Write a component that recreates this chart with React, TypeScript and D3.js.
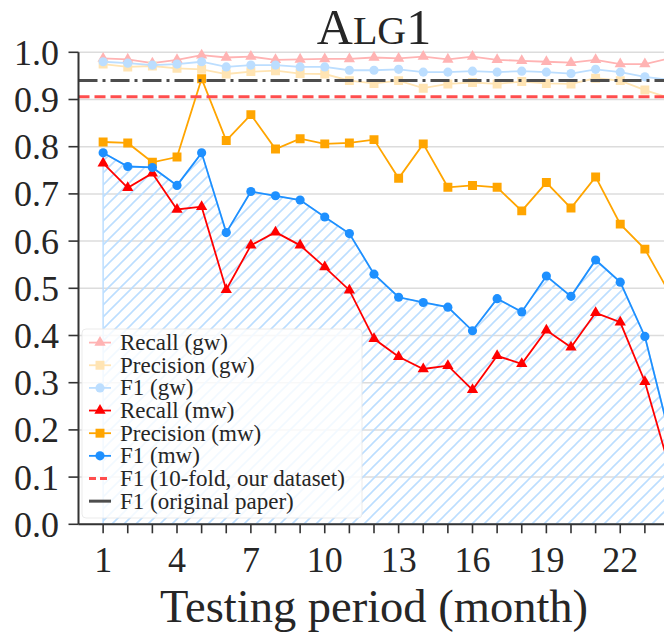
import { useEffect, useRef } from "react";
import * as d3 from "d3";

const months = d3.range(1, 25);
const xTickLabels = [1, 4, 7, 10, 13, 16, 19, 22];
const yTicks = [0, 0.1, 0.2, 0.3, 0.4, 0.5, 0.6, 0.7, 0.8, 0.9, 1.0];

const recallGw = [0.987, 0.985, 0.977, 0.984, 0.994, 0.989, 0.991, 0.984, 0.985, 0.986, 0.986, 0.989, 0.987, 0.991, 0.985, 0.991, 0.984, 0.982, 0.98, 0.978, 0.984, 0.975, 0.975, 0.987];
const precisionGw = [0.975, 0.969, 0.971, 0.966, 0.964, 0.954, 0.959, 0.961, 0.955, 0.954, 0.94, 0.934, 0.94, 0.924, 0.933, 0.936, 0.933, 0.938, 0.934, 0.933, 0.945, 0.94, 0.92, 0.903];
const f1Gw = [0.98, 0.977, 0.973, 0.975, 0.98, 0.969, 0.973, 0.973, 0.969, 0.969, 0.962, 0.962, 0.964, 0.958, 0.958, 0.96, 0.958, 0.96, 0.958, 0.955, 0.964, 0.958, 0.948, 0.942];
const recallMw = [0.765, 0.713, 0.744, 0.667, 0.673, 0.497, 0.591, 0.619, 0.591, 0.545, 0.496, 0.393, 0.355, 0.329, 0.336, 0.285, 0.357, 0.34, 0.411, 0.375, 0.448, 0.428, 0.302, 0.12];
const precisionMw = [0.81, 0.808, 0.767, 0.778, 0.944, 0.813, 0.868, 0.795, 0.817, 0.806, 0.808, 0.815, 0.733, 0.806, 0.714, 0.718, 0.714, 0.664, 0.724, 0.67, 0.736, 0.636, 0.583, 0.49];
const f1Mw = [0.787, 0.758, 0.756, 0.718, 0.787, 0.618, 0.705, 0.696, 0.687, 0.651, 0.616, 0.53, 0.481, 0.47, 0.46, 0.41, 0.478, 0.45, 0.526, 0.483, 0.56, 0.513, 0.398, 0.19];

const f1TenFold = 0.906;
const f1Paper = 0.94;

const RED = "#ff0000";
const ORANGE = "#ffa500";
const BLUE = "#1e90ff";

const series = [
  { label: "Recall (gw)", values: recallGw, color: RED, alpha: 0.3, marker: "triangle" },
  { label: "Precision (gw)", values: precisionGw, color: ORANGE, alpha: 0.3, marker: "square" },
  { label: "F1 (gw)", values: f1Gw, color: BLUE, alpha: 0.3, marker: "circle" },
  { label: "Recall (mw)", values: recallMw, color: RED, alpha: 1, marker: "triangle" },
  { label: "Precision (mw)", values: precisionMw, color: ORANGE, alpha: 1, marker: "square" },
  { label: "F1 (mw)", values: f1Mw, color: BLUE, alpha: 1, marker: "circle" },
];

const W = 664;
const H = 632;
const FONT = "'Liberation Serif', 'Times New Roman', serif";

// mix a colour with white, like matplotlib alpha over a white page
const tint = (c: string, a: number) => {
  const rgb = d3.rgb(c);
  return d3.rgb(255 - (255 - rgb.r) * a, 255 - (255 - rgb.g) * a, 255 - (255 - rgb.b) * a).formatHex();
};

const symbolFor = (m: string) => {
  if (m === "triangle") return d3.symbol(d3.symbolTriangle, 55);
  if (m === "square") return d3.symbol(d3.symbolSquare, 80);
  return d3.symbol(d3.symbolCircle, 66);
};

const App = () => {
  const ref = useRef<SVGSVGElement>(null);

  useEffect(() => {
    const svg = d3.select(ref.current);
    svg.selectAll("*").remove();

    const x = d3.scaleLinear().domain([0, 24]).range([78.5, 669.5]);
    const y = d3.scaleLinear().domain([0, 1]).range([524.3, 52.3]);

    const defs = svg.append("defs");
    const pat = defs
      .append("pattern")
      .attr("id", "hatch")
      .attr("patternUnits", "userSpaceOnUse")
      .attr("width", 12)
      .attr("height", 12);
    pat
      .append("path")
      .attr("d", "M-3,3 l6,-6 M0,12 l12,-12 M9,15 l6,-6")
      .attr("stroke", tint(BLUE, 0.3))
      .attr("stroke-width", 1.6);

    defs
      .append("clipPath")
      .attr("id", "plot-clip")
      .append("rect")
      .attr("x", 78.5)
      .attr("y", 40)
      .attr("width", 600)
      .attr("height", 490);

    // grid
    svg
      .append("g")
      .selectAll("line")
      .data(yTicks)
      .join("line")
      .attr("x1", x(0))
      .attr("x2", x(24))
      .attr("y1", (d) => y(d))
      .attr("y2", (d) => y(d))
      .attr("stroke", "#dcdcdc")
      .attr("stroke-width", 1.5);

    const plot = svg.append("g").attr("clip-path", "url(#plot-clip)");

    // hatched area under F1 (mw)
    const area = d3
      .area<number>()
      .x((_, i) => x(months[i]))
      .y0(y(0))
      .y1((d) => y(d));
    plot
      .append("path")
      .attr("d", area(f1Mw))
      .attr("fill", "url(#hatch)")
      .attr("stroke", tint(BLUE, 0.3))
      .attr("stroke-width", 1.5);

    const line = d3
      .line<number>()
      .x((_, i) => x(months[i]))
      .y((d) => y(d));

    series.forEach((s) => {
      const col = tint(s.color, s.alpha);
      const g = plot.append("g");
      g.append("path")
        .attr("d", line(s.values))
        .attr("fill", "none")
        .attr("stroke", col)
        .attr("stroke-width", 1.8);
      g.selectAll("path.m")
        .data(s.values)
        .join("path")
        .attr("class", "m")
        .attr("transform", (d, i) => `translate(${x(months[i])},${y(d)})`)
        .attr("d", symbolFor(s.marker)())
        .attr("fill", col);
    });

    // reference lines
    plot
      .append("line")
      .attr("x1", x(0))
      .attr("x2", x(24))
      .attr("y1", y(f1TenFold))
      .attr("y2", y(f1TenFold))
      .attr("stroke", tint(RED, 0.7))
      .attr("stroke-width", 3)
      .attr("stroke-dasharray", "11,5");
    plot
      .append("line")
      .attr("x1", x(0))
      .attr("x2", x(24))
      .attr("y1", y(f1Paper))
      .attr("y2", y(f1Paper))
      .attr("stroke", "#4d4d4d")
      .attr("stroke-width", 3)
      .attr("stroke-dasharray", "19,5,3,5");

    // legend
    const lg = svg.append("g");
    lg.append("rect")
      .attr("x", 82)
      .attr("y", 329)
      .attr("width", 280)
      .attr("height", 189)
      .attr("rx", 4)
      .attr("fill", "white")
      .attr("fill-opacity", 0.8)
      .attr("stroke", "#e6e6e6")
      .attr("stroke-opacity", 0.8);

    const legendItems = [
      ...series.map((s) => ({ label: s.label, color: tint(s.color, s.alpha), marker: s.marker, dash: "" })),
      { label: "F1 (10-fold, our dataset)", color: tint(RED, 0.7), marker: "", dash: "7,4" },
      { label: "F1 (original paper)", color: "#4d4d4d", marker: "", dash: "" },
    ];
    legendItems.forEach((it, i) => {
      const cy = 342.6 + i * 22.65;
      lg.append("line")
        .attr("x1", 89)
        .attr("x2", 111)
        .attr("y1", cy)
        .attr("y2", cy)
        .attr("stroke", it.color)
        .attr("stroke-width", it.marker ? 1.8 : 3)
        .attr("stroke-dasharray", it.dash || null);
      if (it.marker) {
        lg.append("path")
          .attr("transform", `translate(100,${cy})`)
          .attr("d", symbolFor(it.marker)())
          .attr("fill", it.color);
      }
      lg.append("text")
        .attr("x", 120)
        .attr("y", cy + 7.5)
        .attr("font-family", FONT)
        .attr("font-size", 23)
        .attr("fill", "#262626")
        .text(it.label);
    });

    // axes
    const axisColor = "#333";
    svg.append("line")
      .attr("x1", x(0)).attr("x2", x(0))
      .attr("y1", y(1)).attr("y2", y(0))
      .attr("stroke", axisColor).attr("stroke-width", 2);
    svg.append("line")
      .attr("x1", x(0)).attr("x2", x(24))
      .attr("y1", y(0)).attr("y2", y(0))
      .attr("stroke", axisColor).attr("stroke-width", 2);

    const yAxis = svg.append("g");
    yAxis.selectAll("line")
      .data(yTicks)
      .join("line")
      .attr("x1", x(0) - 10)
      .attr("x2", x(0))
      .attr("y1", (d) => y(d))
      .attr("y2", (d) => y(d))
      .attr("stroke", axisColor)
      .attr("stroke-width", 1.6);
    yAxis.selectAll("text")
      .data(yTicks)
      .join("text")
      .attr("x", 59)
      .attr("y", (d) => y(d) + 12.5)
      .attr("text-anchor", "end")
      .attr("font-family", FONT)
      .attr("font-size", 36)
      .attr("fill", "#262626")
      .text((d) => d3.format(".1f")(d));

    const xAxis = svg.append("g");
    xAxis.selectAll("line")
      .data(months)
      .join("line")
      .attr("x1", (d) => x(d))
      .attr("x2", (d) => x(d))
      .attr("y1", y(0))
      .attr("y2", y(0) + 9)
      .attr("stroke", axisColor)
      .attr("stroke-width", 1.6);
    xAxis.selectAll("text")
      .data(xTickLabels)
      .join("text")
      .attr("x", (d) => x(d))
      .attr("y", 571.5)
      .attr("text-anchor", "middle")
      .attr("font-family", FONT)
      .attr("font-size", 36)
      .attr("fill", "#262626")
      .text((d) => d);

    svg.append("text")
      .attr("x", 374)
      .attr("y", 621.5)
      .attr("text-anchor", "middle")
      .attr("font-family", FONT)
      .attr("font-size", 46.5)
      .attr("fill", "#262626")
      .text("Testing period (month)");

    const title = svg.append("text")
      .attr("x", 374)
      .attr("y", 43.5)
      .attr("text-anchor", "middle")
      .attr("font-family", FONT)
      .attr("font-size", 50)
      .attr("fill", "#262626");
    title.append("tspan").text("A");
    title.append("tspan").attr("font-size", 40).text("LG");
    title.append("tspan").text("1");
  }, []);

  return (
    <svg
      ref={ref}
      width={W}
      height={H}
      style={{ position: "absolute", left: 0, top: 0, background: "white" }}
    />
  );
};

export default App;
